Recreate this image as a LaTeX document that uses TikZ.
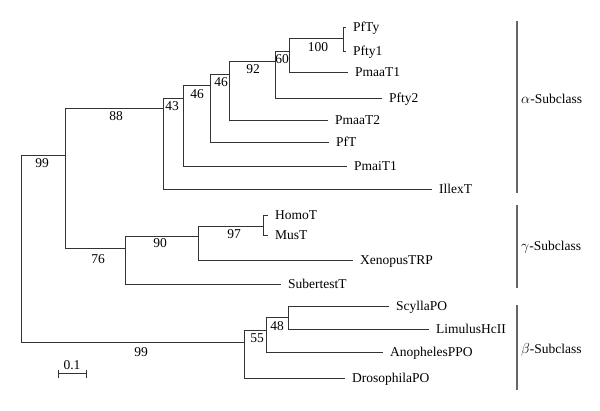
\documentclass[tikz,border=0pt]{standalone}
\usepackage{fontspec}
\setmainfont{Liberation Serif}
\usetikzlibrary{arrows.meta}

\begin{document}
\begin{tikzpicture}[x=1pt, y=-1pt, font=\fontsize{13.5}{16}\selectfont,
    branch/.style={line width=1pt, black!80},
    leaf/.style={anchor=west, inner xsep=7pt, inner ysep=0pt, text height=9.5pt, text depth=3pt},
    boot/.style={inner sep=0pt},
    group/.style={line width=1.3pt, black!60}]
    \useasboundingbox (0, 0) rectangle (600, 411);
    % inner nodes of the tree
    \coordinate (root) at (21, 250);
    \coordinate (a) at (65, 156);
    \coordinate (b) at (163, 109);
    \coordinate (c) at (183, 99);
    \coordinate (d) at (210, 86);
    \coordinate (e) at (229, 75);
    \coordinate (f) at (275, 62);
    \coordinate (h) at (289, 52);
    \coordinate (i) at (343, 39);
    \coordinate (g) at (125, 249);
    \coordinate (j) at (198, 237);
    \coordinate (k) at (263, 227);
    \coordinate (l) at (244, 343);
    \coordinate (m) at (266, 331);
    \coordinate (n) at (288, 318);
    % leaves
    \node[leaf] (pfty) at (346, 28) {PfTy};
    \node[leaf] (pfty1) at (346, 52) {Pfty1};
    \node[leaf] (pmaat1) at (348, 73) {PmaaT1};
    \node[leaf] (pfty2) at (382, 99) {Pfty2};
    \node[leaf] (pmaat2) at (328, 121) {PmaaT2};
    \node[leaf] (pft) at (329, 143) {PfT};
    \node[leaf] (pmait1) at (347, 167) {PmaiT1};
    \node[leaf] (illext) at (432, 190) {IllexT};
    \node[leaf] (homot) at (268, 216) {HomoT};
    \node[leaf] (must) at (268, 236) {MusT};
    \node[leaf] (xenopus) at (353, 261) {XenopusTRP};
    \node[leaf] (subertest) at (281, 285) {SubertestT};
    \node[leaf] (scylla) at (389, 307) {ScyllaPO};
    \node[leaf] (limulus) at (429, 330) {LimulusHcII};
    \node[leaf] (anopheles) at (383, 353) {AnophelesPPO};
    \node[leaf] (drosophila) at (345, 379) {DrosophilaPO};
    % branches
    \draw[branch] (root) |- (a);
    \draw[branch] (root) |- (l);
    \draw[branch] (a) |- (b);
    \draw[branch] (a) |- (g);
    \draw[branch] (b) |- (c);
    \draw[branch] (b) |- (illext);
    \draw[branch] (c) |- (d);
    \draw[branch] (c) |- (pmait1);
    \draw[branch] (d) |- (e);
    \draw[branch] (d) |- (pft);
    \draw[branch] (e) |- (f);
    \draw[branch] (e) |- (pmaat2);
    \draw[branch] (f) |- (h);
    \draw[branch] (f) |- (pfty2);
    \draw[branch] (h) |- (i);
    \draw[branch] (h) |- (pmaat1);
    \draw[branch] (i) |- (pfty);
    \draw[branch] (i) |- (pfty1);
    \draw[branch] (g) |- (j);
    \draw[branch] (g) |- (subertest);
    \draw[branch] (j) |- (k);
    \draw[branch] (j) |- (xenopus);
    \draw[branch] (k) |- (homot);
    \draw[branch] (k) |- (must);
    \draw[branch] (l) |- (m);
    \draw[branch] (l) |- (drosophila);
    \draw[branch] (m) |- (n);
    \draw[branch] (m) |- (anopheles);
    \draw[branch] (n) |- (scylla);
    \draw[branch] (n) |- (limulus);
    % bootstrap values
    \node[boot] (v99a) at (42, 163) {99};
    \node[boot] (v88) at (116, 116) {88};
    \node[boot] (v43) at (172, 106) {43};
    \node[boot] (v46a) at (197, 94) {46};
    \node[boot] (v46b) at (221, 82) {46};
    \node[boot] (v92) at (253, 69) {92};
    \node[boot] (v60) at (282, 59) {60};
    \node[boot] (v100) at (318, 47) {100};
    \node[boot] (v76) at (98, 259) {76};
    \node[boot] (v90) at (160, 243) {90};
    \node[boot] (v97) at (234, 234) {97};
    \node[boot] (v99b) at (141, 352) {99};
    \node[boot] (v55) at (257, 338) {55};
    \node[boot] (v48) at (277, 326) {48};
    % scale bar
    \coordinate (sb1) at (58, 374);
    \coordinate (sb2) at (87, 374);
    \draw[branch, {Bar[width=8pt]}-{Bar[width=8pt]}] (sb1) -- (sb2);
    \node[boot] (sblabel) at (72, 365) {0.1};
    % subclasses
    \coordinate (alpha1) at (517, 21);
    \coordinate (alpha2) at (517, 193);
    \coordinate (gamma1) at (517, 205);
    \coordinate (gamma2) at (517, 288);
    \coordinate (beta1) at (517, 305);
    \coordinate (beta2) at (517, 390);
    \draw[group] (alpha1) -- (alpha2);
    \draw[group] (gamma1) -- (gamma2);
    \draw[group] (beta1) -- (beta2);
    \node[anchor=west, inner sep=0pt] (alphalabel) at (521, 99) {$\alpha$-Subclass};
    \node[anchor=west, inner sep=0pt] (gammalabel) at (521, 247) {$\gamma$-Subclass};
    \node[anchor=west, inner sep=0pt] (betalabel) at (521, 350) {$\beta$-Subclass};
\end{tikzpicture}
\end{document}
